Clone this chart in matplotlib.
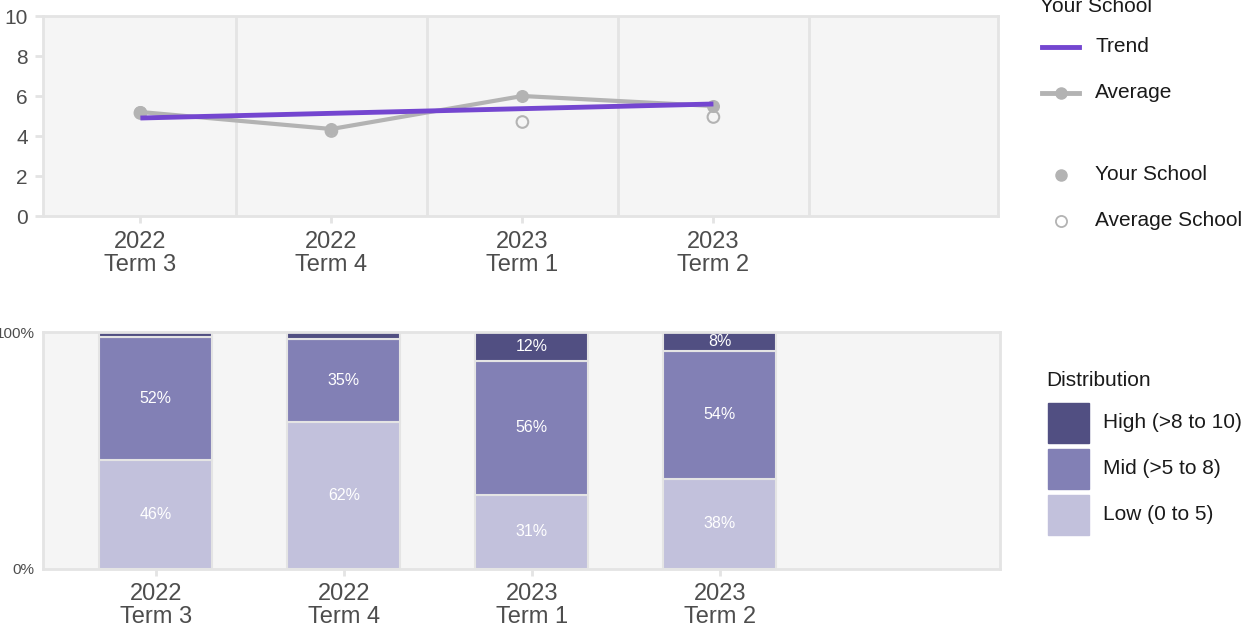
import matplotlib
matplotlib.use("Agg")
import matplotlib.pyplot as plt
from matplotlib.lines import Line2D
from matplotlib.patches import Rectangle
import numpy as np

plt.rcParams['font.family'] = ['Liberation Sans', 'DejaVu Sans']

# ---- data ----
terms = ["2022\nTerm 3", "2022\nTerm 4", "2023\nTerm 1", "2023\nTerm 2"]
your_school = [5.2, 4.35, 6.0, 5.5]
average_school = [5.15, 4.25, 4.7, 4.95]
trend = [4.9, 5.6]  # start, end of trend line
dist_low = [46, 62, 31.4, 38]
dist_mid = [52, 35, 56.4, 54]
dist_high = [2, 3, 12.2, 8]

C_HIGH = "#514f82"
C_MID = "#8280b5"
C_LOW = "#c2c1dc"
C_TREND = "#7446d0"
C_GRAY = "#b3b3b3"
PANEL = "#f5f5f5"
FRAME = "#e4e4e4"
TICKC = "#4d4d4d"

W, H = 1253, 633
fig = plt.figure(figsize=(W / 100, H / 100), dpi=100)

def ax_rect(l, t, r, b):
    return [l / W, 1 - b / H, (r - l) / W, (b - t) / H]

x = np.arange(len(terms))

# ---- top panel ----
ax1 = fig.add_axes(ax_rect(43, 16, 998, 216))
ax1.set_facecolor(PANEL)
ax1.set_xlim(-0.51, 4.49)
ax1.set_ylim(0, 10)
for xv in [0.5, 1.5, 2.5, 3.5]:
    ax1.axvline(xv, color=FRAME, lw=2, zorder=1)
ax1.plot(x, your_school, color=C_GRAY, lw=3, zorder=2)
ax1.scatter(x, average_school, s=70, facecolor="none", edgecolor=C_GRAY, lw=1.5, zorder=3)
ax1.scatter(x, your_school, s=70, color=C_GRAY, zorder=3)
ax1.plot([x[0], x[-1]], trend, color=C_TREND, lw=3.5, zorder=4, solid_capstyle="butt")
ax1.set_yticks([0, 2, 4, 6, 8, 10])
ax1.set_xticks(x)
ax1.set_xticklabels(terms, fontsize=17, color=TICKC, linespacing=1.05)
ax1.tick_params(axis="y", labelsize=15, labelcolor=TICKC, color=FRAME, length=6, width=2, pad=5)
ax1.tick_params(axis="x", color=FRAME, length=5, width=2, pad=6)
for s in ax1.spines.values():
    s.set_color(FRAME)
    s.set_linewidth(2)

# ---- bottom panel ----
ax2 = fig.add_axes(ax_rect(43, 332, 1000, 569))
ax2.set_facecolor(PANEL)
ax2.set_xlim(-0.6, 4.49)
ax2.set_ylim(0, 100)
bw = 0.6
low = np.array(dist_low, float)
mid = np.array(dist_mid, float)
high = np.array(dist_high, float)
ax2.bar(x, low, bw, color=C_LOW, edgecolor=FRAME, lw=1.5, zorder=2)
ax2.bar(x, mid, bw, bottom=low, color=C_MID, edgecolor=FRAME, lw=1.5, zorder=2)
ax2.bar(x, high, bw, bottom=low + mid, color=C_HIGH, edgecolor=FRAME, lw=1.5, zorder=2)
for i in range(len(x)):
    segs = [(0, low[i]), (low[i], mid[i]), (low[i] + mid[i], high[i])]
    for b, v in segs:
        if v >= 5:
            ax2.text(x[i], b + v / 2, f"{v:.0f}%", ha="center", va="center",
                     color="white", fontsize=11.5, zorder=3)
ax2.set_yticks([0, 100])
ax2.set_yticklabels(["0%", "100%"])
ax2.set_xticks(x)
ax2.set_xticklabels(terms, fontsize=17, color=TICKC, linespacing=1.05)
ax2.tick_params(axis="y", labelsize=11, labelcolor=TICKC, length=0, pad=6)
ax2.tick_params(axis="x", color=FRAME, length=5, width=2, pad=5)
for s in ax2.spines.values():
    s.set_color(FRAME)
    s.set_linewidth(2)

# ---- legends (drawn in figure pixel coords) ----
def fx(px):
    return px / W

def fy(py):
    return 1 - py / H

TXT = "#1a1a1a"
LF = 15
fig.text(fx(1040), fy(6), "Your School", fontsize=LF, color=TXT, va="center", ha="left")
fig.add_artist(Line2D([fx(1042), fx(1079)], [fy(47), fy(47)], color=C_TREND, lw=3.5))
fig.text(fx(1095), fy(47), "Trend", fontsize=LF, color=TXT, va="center")
fig.add_artist(Line2D([fx(1042), fx(1079)], [fy(93), fy(93)], color=C_GRAY, lw=3.5))
fig.add_artist(Line2D([fx(1061)], [fy(93)], marker="o", ms=8, color=C_GRAY, lw=0))
fig.text(fx(1095), fy(93), "Average", fontsize=LF, color=TXT, va="center")
fig.add_artist(Line2D([fx(1061)], [fy(175)], marker="o", ms=8, color=C_GRAY, lw=0))
fig.text(fx(1095), fy(175), "Your School", fontsize=LF, color=TXT, va="center")
fig.add_artist(Line2D([fx(1061)], [fy(221)], marker="o", ms=8, mfc="none", mec=C_GRAY, mew=1.3, lw=0))
fig.text(fx(1095), fy(221), "Average School", fontsize=LF, color=TXT, va="center")

fig.text(fx(1046), fy(381), "Distribution", fontsize=LF, color=TXT, va="center")
for py, col, lbl in [(403, C_HIGH, "High (>8 to 10)"), (449, C_MID, "Mid (>5 to 8)"), (495, C_LOW, "Low (0 to 5)")]:
    fig.add_artist(Rectangle((fx(1048), fy(py + 40)), 41 / W, 40 / H, color=col, transform=fig.transFigure))
    fig.text(fx(1103), fy(py + 20), lbl, fontsize=LF, color=TXT, va="center")

fig.savefig("out.png", dpi=100)
